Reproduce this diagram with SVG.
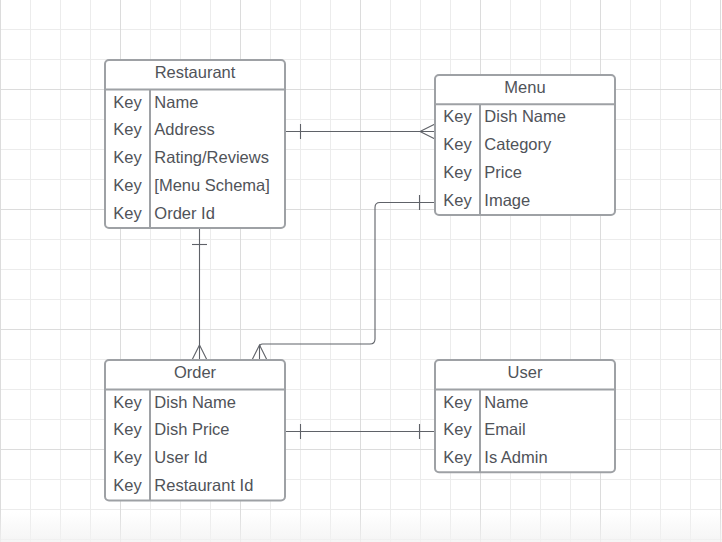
<svg xmlns="http://www.w3.org/2000/svg" width="722" height="542" viewBox="0 0 722 542">
  <style>
    .t { font-family: "Liberation Sans", Arial, sans-serif; font-size: 16.5px; fill: #505359; }
    .h { text-anchor: middle; }
    .box { fill: #ffffff; stroke: #9ea1a5; stroke-width: 2; }
    .div { stroke: #9ea1a5; stroke-width: 2; fill: none; }
    .con { stroke: #5f6268; stroke-width: 1.1; fill: none; }
  </style>
  <defs>
    <pattern id="minor" width="30" height="30" patternUnits="userSpaceOnUse">
      <path d="M0.5,0 V30 M0,29.5 H30" stroke="#ececec" stroke-width="1" fill="none"/>
    </pattern>
    <pattern id="major" width="120" height="120" patternUnits="userSpaceOnUse">
      <path d="M0.5,0 V120 M0,89.5 H120" stroke="#dcdcdc" stroke-width="1" fill="none"/>
    </pattern>
    <linearGradient id="fade" x1="0" y1="0" x2="0" y2="1">
      <stop offset="0" stop-color="#f2f2f2" stop-opacity="0"/>
      <stop offset="1" stop-color="#f2f2f2" stop-opacity="0.8"/>
    </linearGradient>
  </defs>

  <rect x="0" y="0" width="722" height="542" fill="#ffffff"/>
  <rect x="0" y="0" width="722" height="542" fill="url(#minor)"/>
  <rect x="0" y="0" width="722" height="542" fill="url(#major)"/>
  <rect x="0" y="512" width="722" height="30" fill="url(#fade)"/>

  <g id="connectors">
    <!-- Restaurant -> Menu (one to many) -->
    <path class="con" d="M285,131.5 H435"/>
    <path class="con" d="M300.5,124 V139"/>
    <path class="con" d="M435,124 L420,131.5 L435,139"/>
    <!-- Restaurant -> Order (one to many) -->
    <path class="con" d="M199.5,228 V360"/>
    <path class="con" d="M192,244.5 H207"/>
    <path class="con" d="M192,360 L199.5,345 L207,360"/>
    <!-- Menu Image -> Order (one to many) -->
    <path class="con" d="M435,202.5 H380 Q375,202.5 375,207.5 V339 Q375,344 370,344 H262.5 Q259.5,344 259.5,347 V360"/>
    <path class="con" d="M419.5,195 V210"/>
    <path class="con" d="M252,360 L259.5,345 L267,360"/>
    <!-- Order -> User (one to one) -->
    <path class="con" d="M285,431.5 H435"/>
    <path class="con" d="M300.5,424 V439"/>
    <path class="con" d="M419.5,424 V439"/>
  </g>

  <g id="restaurant">
    <rect class="box" x="105" y="60" width="180" height="168" rx="4"/>
    <path class="div" d="M105,89.5 H285 M150,89.5 V228"/>
    <text class="t h" x="195" y="78.3">Restaurant</text>
    <text class="t" x="113.3" y="107.7">Key</text><text class="t" x="154.3" y="107.7">Name</text>
    <text class="t" x="113.3" y="135.4">Key</text><text class="t" x="154.3" y="135.4">Address</text>
    <text class="t" x="113.3" y="163.2">Key</text><text class="t" x="154.3" y="163.2">Rating/Reviews</text>
    <text class="t" x="113.3" y="190.9">Key</text><text class="t" x="154.3" y="190.9">[Menu Schema]</text>
    <text class="t" x="113.3" y="218.6">Key</text><text class="t" x="154.3" y="218.6">Order Id</text>
  </g>

  <g id="menu">
    <rect class="box" x="435" y="75" width="180" height="140" rx="4"/>
    <path class="div" d="M435,104.3 H615 M480,104.3 V215"/>
    <text class="t h" x="525" y="93.3">Menu</text>
    <text class="t" x="443.3" y="122.4">Key</text><text class="t" x="484.3" y="122.4">Dish Name</text>
    <text class="t" x="443.3" y="150.1">Key</text><text class="t" x="484.3" y="150.1">Category</text>
    <text class="t" x="443.3" y="177.9">Key</text><text class="t" x="484.3" y="177.9">Price</text>
    <text class="t" x="443.3" y="205.6">Key</text><text class="t" x="484.3" y="205.6">Image</text>
  </g>

  <g id="order">
    <rect class="box" x="105" y="360" width="180" height="140.5" rx="4"/>
    <path class="div" d="M105,389.5 H285 M150,389.5 V500.5"/>
    <text class="t h" x="195" y="378.3">Order</text>
    <text class="t" x="113.3" y="407.7">Key</text><text class="t" x="154.3" y="407.7">Dish Name</text>
    <text class="t" x="113.3" y="435.4">Key</text><text class="t" x="154.3" y="435.4">Dish Price</text>
    <text class="t" x="113.3" y="463.2">Key</text><text class="t" x="154.3" y="463.2">User Id</text>
    <text class="t" x="113.3" y="490.9">Key</text><text class="t" x="154.3" y="490.9">Restaurant Id</text>
  </g>

  <g id="user">
    <rect class="box" x="435" y="360" width="180" height="112.3" rx="4"/>
    <path class="div" d="M435,389.5 H615 M480,389.5 V472.3"/>
    <text class="t h" x="525" y="378.3">User</text>
    <text class="t" x="443.3" y="407.7">Key</text><text class="t" x="484.3" y="407.7">Name</text>
    <text class="t" x="443.3" y="435.4">Key</text><text class="t" x="484.3" y="435.4">Email</text>
    <text class="t" x="443.3" y="463.2">Key</text><text class="t" x="484.3" y="463.2">Is Admin</text>
  </g>
</svg>
